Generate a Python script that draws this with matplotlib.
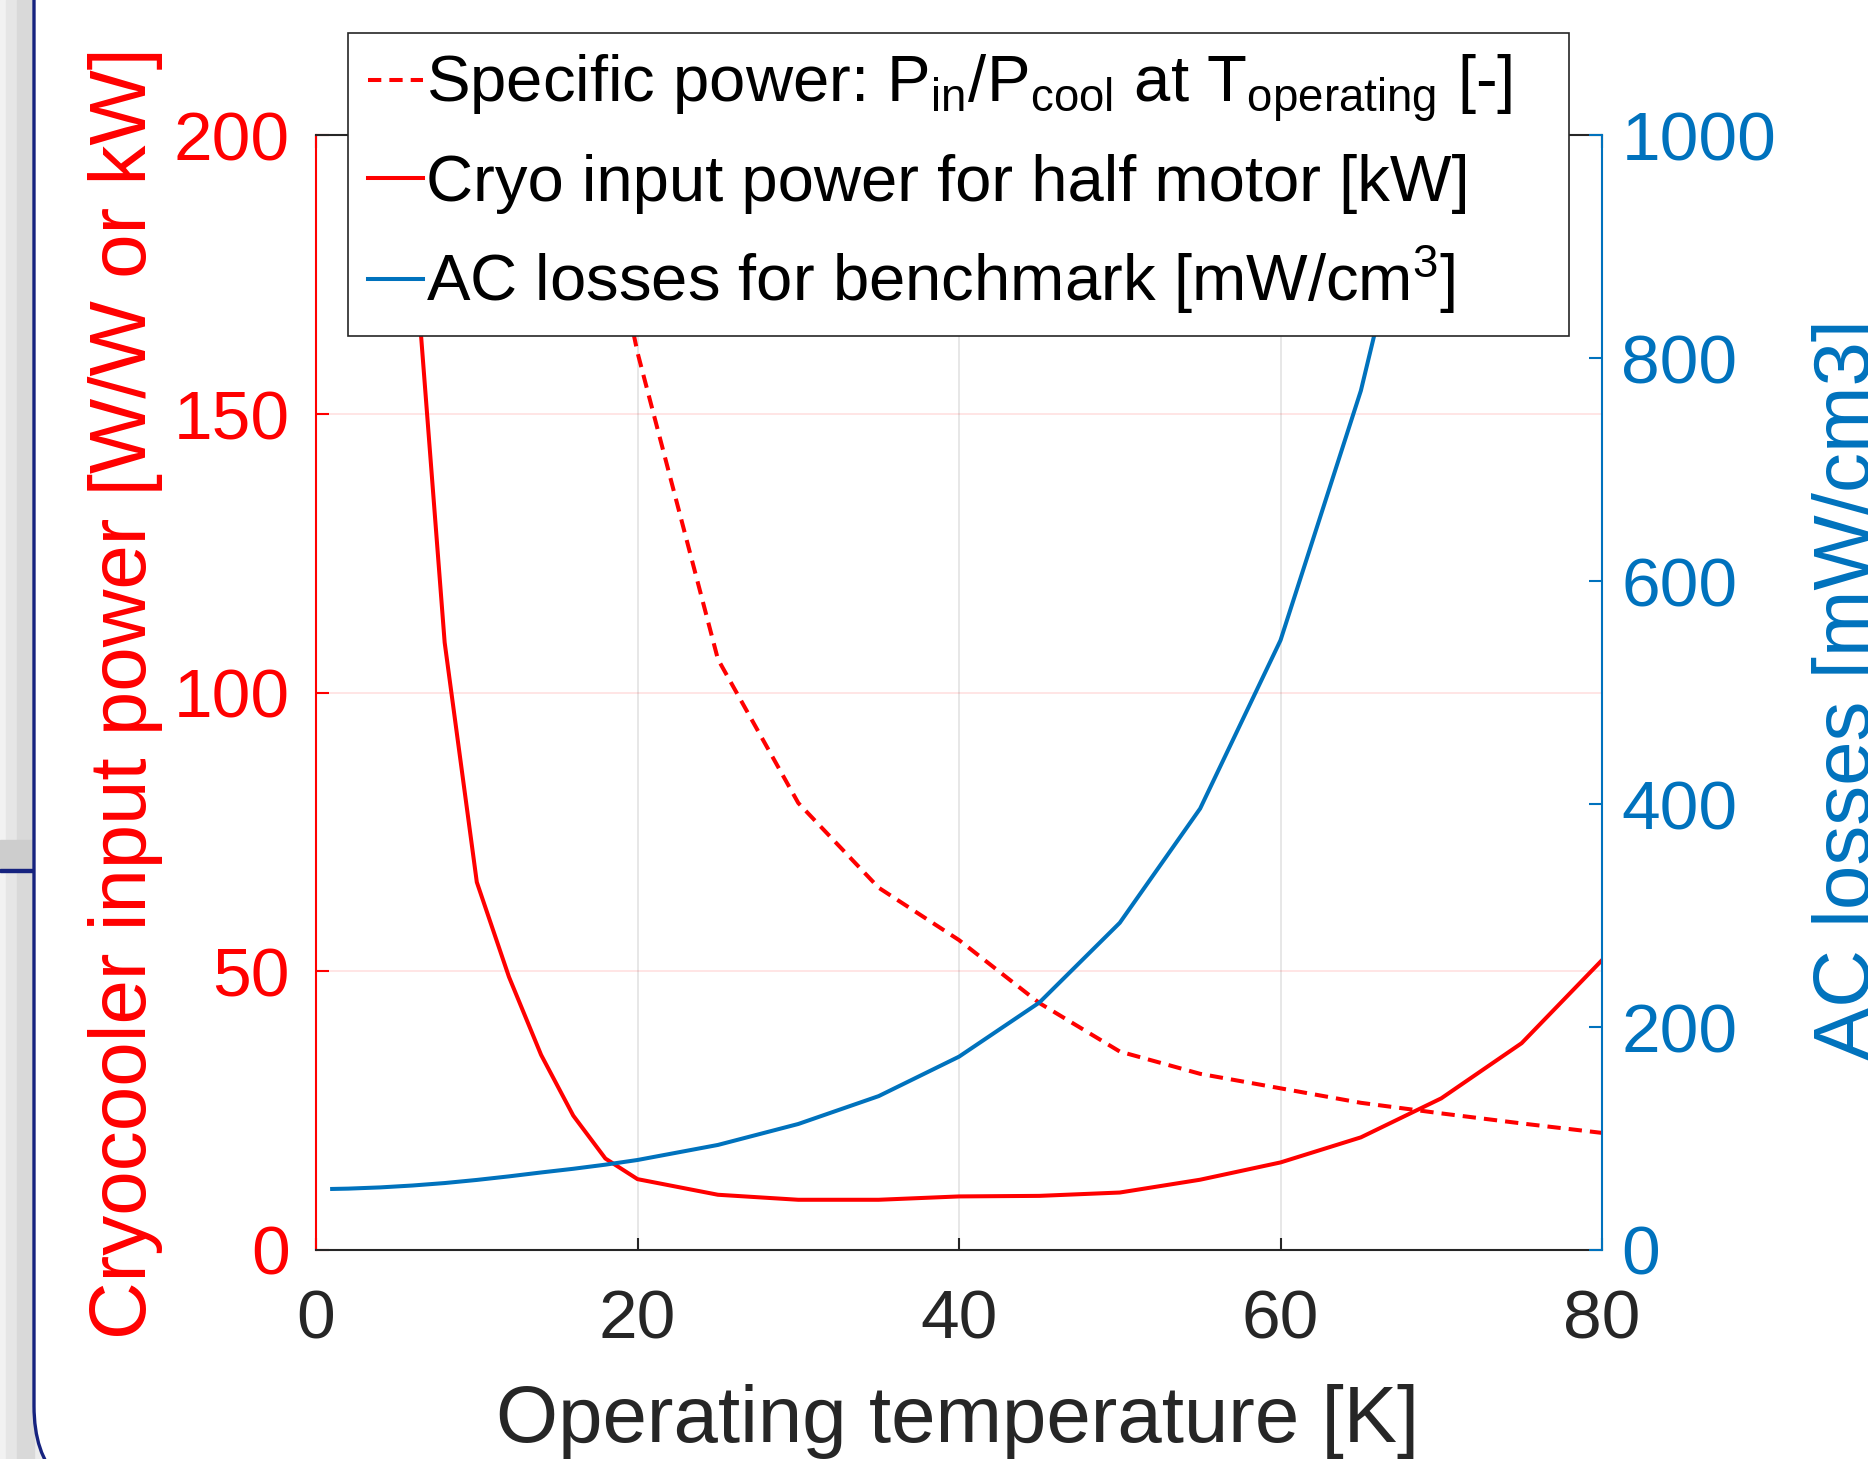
import matplotlib
matplotlib.use("Agg")
import matplotlib.pyplot as plt
from matplotlib.patches import Rectangle, FancyBboxPatch
from matplotlib.transforms import IdentityTransform

plt.rcParams['font.family'] = ['Liberation Sans', 'DejaVu Sans']
plt.rcParams['mathtext.fontset'] = 'custom'
plt.rcParams['mathtext.rm'] = 'Liberation Sans'
plt.rcParams['mathtext.it'] = 'Liberation Sans:italic'
plt.rcParams['mathtext.bf'] = 'Liberation Sans:bold'

RED = "#ff0000"
BLUE = "#0072bd"
DARK = "#262626"

# values
temp_cryo = [6, 8, 10, 12, 14, 16, 18, 20, 25, 30, 35, 40, 45, 50, 55, 60, 65, 70, 75, 80]
cryo_power_kw = [184, 109, 66, 49, 35, 24.1, 16.4, 12.7, 9.9, 9.0, 9.0, 9.6, 9.7, 10.3,
                 12.6, 15.7, 20.2, 27.2, 37.1, 52.0]

temp_spec = [15, 20, 25, 30, 35, 40, 45, 50, 55, 60, 65, 70, 75, 80]
spec_power = [230, 161, 106, 80.2, 65, 55.6, 44.3, 35.6, 31.6, 29.0, 26.4, 24.5, 22.7, 21.0]

temp_ac = [1, 2, 4, 6, 8, 10, 12, 14, 16, 18, 20, 25, 30, 35, 40, 45, 50, 55, 60, 65, 70]
ac_loss = [54.7, 55.0, 56.1, 57.8, 60.0, 62.8, 66.0, 69.5, 72.8, 76.5, 80.7, 94.2, 113, 138,
           173.4, 222, 293.5, 396, 547, 771, 1070]

x_ticks = [0, 20, 40, 60, 80]
left_ticks = [0, 50, 100, 150, 200]
right_ticks = [0, 200, 400, 600, 800, 1000]

labels = [
    r"Specific power: P$_{\mathrm{in}}$/P$_{\mathrm{cool}}$ at T$_{\mathrm{operating}}$ [-]",
    "Cryo input power for half motor [kW]",
    r"AC losses for benchmark [mW/cm$^{3}$]",
]

fig = plt.figure(figsize=(18.68, 14.59), dpi=100, facecolor="#ececec")

# screenshot frame bits on the left edge
px = IdentityTransform()
fig.patches.append(Rectangle((0, 0), 6, 1459, transform=px, color="#f2f2f2", zorder=-10))
fig.patches.append(Rectangle((6, 0), 11, 1459, transform=px, color="#e6e6e6", zorder=-10))
fig.patches.append(Rectangle((17, 0), 17, 1459, transform=px, color="#d9d9d9", zorder=-10))
fig.patches.append(Rectangle((0, 589), 34, 30, transform=px, color="#cdcdcd", zorder=-9))
fig.patches.append(Rectangle((0, 587), 34, 3, transform=px, color="#16237f", zorder=-8))
fig.patches.append(FancyBboxPatch((34, -43), 3000, 3000, boxstyle="round,pad=0,rounding_size=96",
                                  transform=px, facecolor="white", edgecolor="#16237f",
                                  linewidth=2.4, zorder=-7))

ax = fig.add_axes([0.1692, 0.1433, 0.6884, 0.7639])
ax2 = ax.twinx()

l1, = ax.plot(temp_spec, spec_power, color=RED, lw=2.9, linestyle=(0, (3.3, 2.0)))
l2, = ax.plot(temp_cryo, cryo_power_kw, color=RED, lw=2.9)
l3, = ax2.plot(temp_ac, ac_loss, color=BLUE, lw=2.9)

ax.set_xlim(0, 80)
ax.set_ylim(0, 200)
ax2.set_ylim(0, 1000)
ax.set_xticks(x_ticks)
ax.set_yticks(left_ticks)
ax2.set_yticks(right_ticks)

ax.grid(axis="x", color=DARK, alpha=0.13, lw=1.2)
ax.grid(axis="y", color=RED, alpha=0.12, lw=1.2)

for s in ["top", "bottom"]:
    ax.spines[s].set_color(DARK)
    ax.spines[s].set_linewidth(1.5)
ax.spines["left"].set_color(RED)
ax.spines["left"].set_linewidth(1.5)
ax.spines["right"].set_visible(False)
for s in ["top", "bottom", "left"]:
    ax2.spines[s].set_visible(False)
ax2.spines["right"].set_color(BLUE)
ax2.spines["right"].set_linewidth(1.5)

ax.tick_params(axis="x", direction="in", length=9, width=1.5, colors=DARK,
               labelsize=50, pad=28, top=True)
ax.tick_params(axis="y", direction="in", length=9.5, width=1.5, colors=RED,
               labelsize=50, pad=19, right=False)
ax2.tick_params(axis="y", direction="in", length=9.5, width=1.5, colors=BLUE,
                labelsize=50, pad=14)

ax.set_xlabel("Operating temperature [K]", fontsize=57.5, color=DARK)
ax.xaxis.set_label_coords(0.499, -0.12)
ax.set_ylabel("Cryocooler input power [W/W or kW]", fontsize=57.5, color=RED)
ax.yaxis.set_label_coords(-0.119, 0.5)
ax2.set_ylabel("AC losses [mW/cm3]", fontsize=57.5, color=BLUE)
ax2.yaxis.set_label_coords(1.163, 0.503)

leg = ax2.legend([l1, l2, l3], labels, loc="upper left",
                 bbox_to_anchor=(0.0249, 0.8218, 0.9494, 0.2701), mode="expand",
                 fontsize=47, frameon=True, fancybox=False, framealpha=1,
                 edgecolor=DARK, handlelength=0.85, handletextpad=0.05,
                 borderpad=0.3, labelspacing=0.45, borderaxespad=0)
leg.get_frame().set_linewidth(1.2)

fig.savefig("out.png", dpi=100, facecolor=fig.get_facecolor())
